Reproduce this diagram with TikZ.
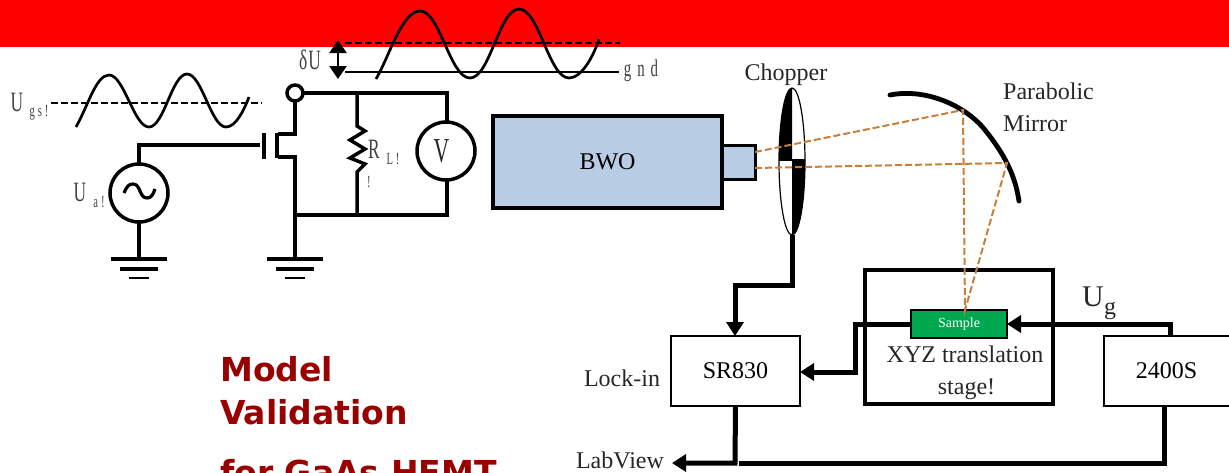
\documentclass[tikz,border=0pt]{standalone}
\usepackage{fontspec}
\setmainfont{Liberation Serif}
\newfontfamily\boldsans{DejaVu Sans Bold}
\newfontfamily\narrowserif[FakeStretch=0.62]{Liberation Serif}
\usetikzlibrary{arrows.meta,calc,shapes.geometric}
\definecolor{bwo}{HTML}{B8CCE4}
\definecolor{beam}{HTML}{C87F3A}
\definecolor{samplegreen}{HTML}{00A84F}
\definecolor{titlered}{HTML}{990000}
\definecolor{graytext}{HTML}{404040}
\tikzset{
  wire/.style={line width=3.5pt,black,line join=miter},
  bus/.style={line width=5pt,black,line join=miter},
  busarrow/.style={bus,-{Triangle[length=14pt,width=17pt]}},
  wave/.style={line width=2.7pt,black},
  dashref/.style={line width=2.5pt,dash pattern=on 7pt off 3pt},
  ray/.style={line width=2pt,beam,dash pattern=on 7pt off 3pt},
  meter/.style={circle,draw,line width=3.5pt,minimum size=58pt,inner sep=0pt,outer sep=0pt,fill=white},
  instr/.style={rectangle,draw,line width=1.5pt,minimum width=129pt,minimum height=70pt,inner sep=0pt,outer sep=0pt,font=\fontsize{24}{24}\selectfont},
  lab/.style={inner sep=0pt,font=\fontsize{24}{32}\selectfont,text=black!85},
  cir/.style={inner sep=0pt,text=graytext,font=\narrowserif\fontsize{28}{28}\selectfont},
  sub/.style={inner sep=0pt,text=graytext,font=\narrowserif\fontsize{17}{17}\selectfont},
  titletext/.style={anchor=base west,inner sep=0pt,text=titlered,font=\boldsans\fontsize{33}{33}\selectfont}
}
\newcommand{\gnd}[1]{%
  \draw[line width=3.5pt] ($(#1)+(-28,0)$) -- ($(#1)+(28,0)$);
  \draw[line width=3.2pt] ($(#1)+(-19,10)$) -- ($(#1)+(19,10)$);
  \draw[line width=2pt] ($(#1)+(-10,19)$) -- ($(#1)+(10,19)$);
}
\begin{document}
\begin{tikzpicture}[x=1pt,y=-1pt]
\useasboundingbox (0,0) rectangle (1229,472);
\clip (0,0) rectangle (1229,472);
\fill[red] (0,0) rectangle (1229,47);

% title
\node[titletext] (t1) at (220,381) {Model};
\node[titletext] (t2) at (220,424) {Validation};
\node[titletext] (t3) at (220,484) {for GaAs HEMT};

% waves
\draw[dashref] (51,103) -- (262,103);
\draw[wave] (76,127) .. controls (88,106) and (96,75) .. (109,75)
  .. controls (124,75) and (134,127) .. (149,127)
  .. controls (164,127) and (172,74) .. (187,74)
  .. controls (202,74) and (211,127) .. (226,127)
  .. controls (236,127) and (244,110) .. (249,97);
\draw[dashref] (345,43) -- (620,43);
\draw[line width=2.5pt] (345,72) -- (619,72);
\draw[wave] (376,79) .. controls (390,55) and (402,11) .. (420,11)
  .. controls (440,11) and (450,78) .. (470,78)
  .. controls (490,78) and (499,9) .. (519,9)
  .. controls (539,9) and (549,78) .. (569,78)
  .. controls (582,78) and (594,55) .. (599,39);
\coordinate (duT) at (338,40); \coordinate (duB) at (338,79);
\draw[line width=2.5pt,{Triangle[length=13pt,width=17pt]}-{Triangle[length=13pt,width=17pt]}] (duT) -- (duB);

% circuit
\node[circle,draw,line width=3.5pt,minimum size=16pt,inner sep=0pt,outer sep=0pt] (term) at (295,93) {};
\node[meter] (vm) at (446,151) {};
\node[cir,font=\narrowserif\fontsize{35}{35}\selectfont,text=black!85] (vlab) at (441.5,151) {V};
\node[meter] (src) at (139,193) {};
\draw[line width=3.2pt] (124,193) .. controls (127,186) and (129,184) .. (133,184) .. controls (141,184) and (139,198) .. (147,198) .. controls (151,198) and (153,195) .. (155,189);
\coordinate (g1) at (139,259);
\coordinate (g2) at (295,259);
\coordinate (gate) at (260,145);
\coordinate (topR) at (447,93);
\coordinate (botR) at (447,215);
\coordinate (botL) at (297,215);
\draw[wire] (term.east) -- (topR) -- (vm.north -| topR);
\draw[wire] (vm.south -| botR) -- (botR) -- (botL);
\draw[wire] (term.south) -- (295,134) -- (278,134);
\draw[wire] (278,157) -- (295,157) -- (g2);
\draw[line width=3.5pt] (277,133) -- (277,157.5);
\draw[line width=3.5pt] (264,133) -- (264,159);
\draw[wire] (gate) -- (139,145) -- (src.north);
\draw[wire] (src.south) -- (g1);
\gnd{g1}
\gnd{g2}
\draw[wire,line join=miter] (357,93) -- (357,126) -- (365,131) -- (350,140) -- (365,149) -- (350,158) -- (365,164) -- (357,172) -- (357,215);

% circuit labels
\node[cir] (ugs) at (17,102) {U};
\node[sub] (ugss) at (39,113) {g\hspace{3pt}s\hspace{3pt}!};
\node[cir] (ua) at (80,192) {U};
\node[sub] (uas) at (99,202) {a\hspace{3pt}!};
\node[cir] (rl) at (374,149) {R};
\node[sub] (rls) at (393,159) {L\hspace{3pt}!};
\node[sub] (rlx) at (369,182) {!};
\node[cir] (du) at (310,60) {δ\hspace{1pt}U};
\node[cir,font=\narrowserif\fontsize{24}{24}\selectfont] (gndl) at (641,71) {g\hspace{6pt}n\hspace{6pt}d};

% BWO
\node[draw,line width=3.5pt,fill=bwo,minimum width=229pt,minimum height=92pt,inner sep=0pt,outer sep=0pt,font=\fontsize{24}{24}\selectfont] (bwo) at (607.5,162) {\raisebox{-3pt}{BWO}};
\node[draw,line width=3pt,fill=bwo,minimum width=33pt,minimum height=34pt,inner sep=0pt,outer sep=0pt,anchor=west] (horn) at (bwo.east) {};

% chopper
\fill (792,88) .. controls (784,88) and (779,125) .. (779,160) -- (792,160) -- cycle;
\fill (792,235) .. controls (800,235) and (805,195) .. (805,160) -- (792,160) -- cycle;
\node[draw,ellipse,line width=1.2pt,minimum width=26pt,minimum height=147pt,inner sep=0pt,outer sep=0pt] (chop) at (792,161.5) {};
\draw[line width=1.2pt] (779,160) -- (805,160);
\node[lab] (choplab) at (786,75) {Chopper};

% mirror
\draw[line width=4.8pt,line cap=round] (890,95) .. controls (925,88) and (965,105) .. (985,130) .. controls (1005,155) and (1015,175) .. (1019,201);
\node[lab,align=left,anchor=north west] (mirlab) at (1003,83) {Parabolic\\Mirror};

% instruments
\node[draw,line width=4.5pt,minimum width=188pt,minimum height=134pt,inner sep=0pt,outer sep=0pt] (stage) at (959,337) {};
\node[instr] (lock) at (735.5,371) {SR830};
\node[instr,minimum width=130pt,anchor=west] (keith) at (1104,371) {\hspace{-5pt}2400S};
\node[draw,line width=2pt,fill=samplegreen,text=white,minimum width=96pt,minimum height=28pt,inner sep=0pt,outer sep=0pt,font=\fontsize{14}{14}\selectfont] (sample) at (959,324) {Sample};
\node[lab,align=center] (stagelab) at (965,373) {XYZ translation\\\hspace{3pt}stage!};
\node[lab] (locklab) at (622,378) {Lock-in};
\node[lab] (lvlab) at (620,460) {LabView};
\node[lab,font=\fontsize{30}{30}\selectfont] (ug) at (1093,297) {U};
\node[lab] (ugsub) at (1110,311) {g};

% rays
\coordinate (m1) at (963,110);
\coordinate (m2) at (1007,163);
\coordinate (s) at (965,310);
\draw[ray] (horn.east |- 0,152) -- (m1) -- (s) -- (m2) -- (horn.east |- 0,168);

% wiring
\coordinate (ch1) at (792,285);
\coordinate (ch2) at (735,285);
\draw[busarrow] (chop.south) -- (ch1) -- (ch2) -- (lock.north -| ch2);
\draw[busarrow] (1170,336) -- (1170,324) -- (sample.east);
\draw[busarrow] (sample.west) -- (855,324) -- (855,372) -- (lock.east |- 0,372);
\coordinate (lv) at (672,463);
\draw[busarrow] (lock.south) -- (735,463) -- (lv);
\draw[bus] (1164,406) -- (1164,463) -- (739,463);
\end{tikzpicture}
\end{document}
